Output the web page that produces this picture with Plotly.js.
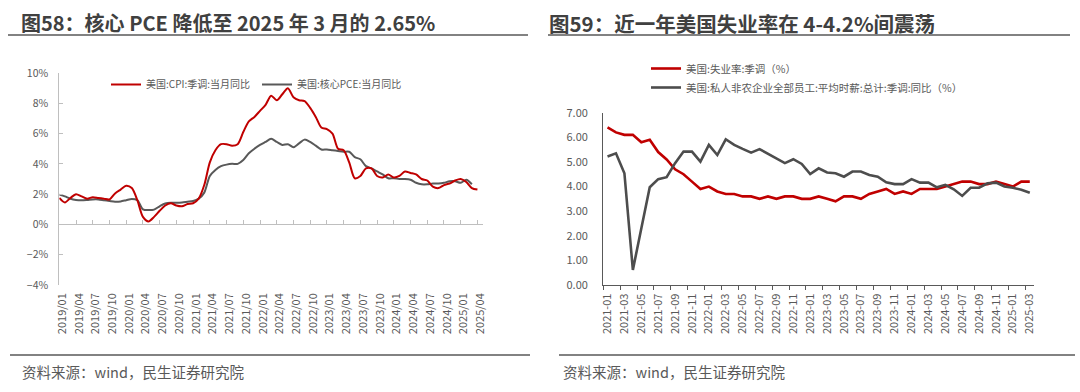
<!DOCTYPE html>
<html><head><meta charset="utf-8">
<script src="https://cdn.plot.ly/plotly-3.0.1.min.js"></script>
<style>html,body{margin:0;padding:0;background:#fff}#chart{width:1080px;height:392px}</style>
</head><body><div id="chart"></div>
<script>
// ---------- Left panel data ----------
const monthsL = [
 "2019/01","2019/02","2019/03","2019/04","2019/05","2019/06","2019/07","2019/08","2019/09","2019/10","2019/11","2019/12",
 "2020/01","2020/02","2020/03","2020/04","2020/05","2020/06","2020/07","2020/08","2020/09","2020/10","2020/11","2020/12",
 "2021/01","2021/02","2021/03","2021/04","2021/05","2021/06","2021/07","2021/08","2021/09","2021/10","2021/11","2021/12",
 "2022/01","2022/02","2022/03","2022/04","2022/05","2022/06","2022/07","2022/08","2022/09","2022/10","2022/11","2022/12",
 "2023/01","2023/02","2023/03","2023/04","2023/05","2023/06","2023/07","2023/08","2023/09","2023/10","2023/11","2023/12",
 "2024/01","2024/02","2024/03","2024/04","2024/05","2024/06","2024/07","2024/08","2024/09","2024/10","2024/11","2024/12",
 "2025/01","2025/02","2025/03","2025/04"];
const cpiYoY = [
 1.75,1.45,1.75,2.0,1.85,1.7,1.8,1.75,1.7,1.65,2.05,2.3,
 2.55,2.4,1.6,0.5,0.2,0.5,0.9,1.25,1.4,1.25,1.2,1.35,
 1.4,1.7,2.6,4.1,4.9,5.3,5.3,5.2,5.3,6.1,6.8,7.1,
 7.5,7.9,8.5,8.2,8.6,9.0,8.4,8.2,8.15,7.7,7.1,6.4,
 6.3,6.0,5.0,4.9,4.1,3.05,3.2,3.7,3.7,3.2,3.1,3.3,
 3.1,3.2,3.5,3.4,3.3,3.0,2.9,2.5,2.4,2.6,2.7,2.9,
 3.0,2.8,2.4,2.3];
const corePceYoY = [
 1.97,1.85,1.7,1.62,1.6,1.62,1.65,1.65,1.6,1.55,1.5,1.52,
 1.6,1.68,1.6,1.0,0.95,0.98,1.2,1.38,1.43,1.43,1.45,1.5,
 1.55,1.7,2.1,3.2,3.6,3.85,3.95,4.0,4.0,4.25,4.7,5.0,
 5.25,5.45,5.65,5.45,5.25,5.3,5.1,5.35,5.6,5.45,5.2,4.95,
 4.95,4.9,4.85,4.8,4.8,4.45,4.3,3.85,3.7,3.5,3.3,3.05,
 3.05,3.0,3.0,2.95,2.75,2.65,2.65,2.7,2.7,2.75,2.85,2.85,
 2.75,2.95,2.65];
const nameCPI = "美国:CPI:季调:当月同比";
const namePCE = "美国:核心PCE:当月同比";

// ---------- Right panel data ----------
const monthsR = [
 "2021-01","2021-02","2021-03","2021-04","2021-05","2021-06","2021-07","2021-08","2021-09","2021-10","2021-11","2021-12",
 "2022-01","2022-02","2022-03","2022-04","2022-05","2022-06","2022-07","2022-08","2022-09","2022-10","2022-11","2022-12",
 "2023-01","2023-02","2023-03","2023-04","2023-05","2023-06","2023-07","2023-08","2023-09","2023-10","2023-11","2023-12",
 "2024-01","2024-02","2024-03","2024-04","2024-05","2024-06","2024-07","2024-08","2024-09","2024-10","2024-11","2024-12",
 "2025-01","2025-02","2025-03"];
const unemployment = [
 6.4,6.2,6.1,6.1,5.8,5.9,5.4,5.1,4.7,4.5,4.2,3.9,
 4.0,3.8,3.7,3.7,3.6,3.6,3.5,3.6,3.5,3.6,3.6,3.5,
 3.5,3.6,3.5,3.4,3.6,3.6,3.5,3.7,3.8,3.9,3.7,3.8,
 3.7,3.9,3.9,3.9,4.0,4.1,4.2,4.2,4.1,4.1,4.2,4.1,
 4.0,4.2,4.2];
const hourlyEarningsYoY = [
 5.22,5.35,4.54,0.61,2.3,3.97,4.3,4.38,4.95,5.42,5.42,5.01,
 5.69,5.28,5.92,5.69,5.53,5.38,5.52,5.33,5.11,4.95,5.11,4.92,
 4.51,4.74,4.57,4.54,4.40,4.61,4.61,4.47,4.40,4.17,4.1,4.1,
 4.3,4.16,4.16,3.97,4.07,3.89,3.62,3.95,3.95,4.13,4.16,4.0,
 3.95,3.87,3.75];
const nameUnemp = "美国:失业率:季调（%）";
const nameWage = "美国:私人非农企业全部员工:平均时薪:总计:季调:同比（%）";

// ---------- Text ----------
const titleL = "图58：核心 PCE 降低至 2025 年 3 月的 2.65%";
const titleR = "图59：近一年美国失业率在 4-4.2%间震荡";
const sourceText = "资料来源：wind，民生证券研究院";

// ---------- Layout helpers ----------
const W = 1080, H = 392;
const px = x => x / W;
const py = y => 1 - y / H;
const FONT = '"Noto Sans CJK SC", "Noto Sans", sans-serif';
const RED = '#C00000', GRAY = '#595959', TXT = '#595959';

const yRangeL = [-4, 10];
const yDomL = [py(285), py(73)];
const zeroPos = yDomL[0] + (0 - yRangeL[0]) / (yRangeL[1] - yRangeL[0]) * (yDomL[1] - yDomL[0]);

const traces = [
  {x: monthsL.slice(0, cpiYoY.length), y: cpiYoY, name: nameCPI, type: 'scatter', mode: 'lines',
   line: {color: RED, width: 2, shape: 'spline', smoothing: 0.8}, xaxis: 'x2', yaxis: 'y', legend: 'legend', hoverinfo: 'skip'},
  {x: monthsL.slice(0, corePceYoY.length), y: corePceYoY, name: namePCE, type: 'scatter', mode: 'lines',
   line: {color: GRAY, width: 2, shape: 'spline', smoothing: 0.8}, xaxis: 'x', yaxis: 'y', legend: 'legend', hoverinfo: 'skip'},
  {x: monthsR, y: unemployment, name: nameUnemp, type: 'scatter', mode: 'lines',
   line: {color: RED, width: 2.6}, xaxis: 'x3', yaxis: 'y2', legend: 'legend2', hoverinfo: 'skip'},
  {x: monthsR, y: hourlyEarningsYoY, name: nameWage, type: 'scatter', mode: 'lines',
   line: {color: '#4d4d4d', width: 2.6}, xaxis: 'x3', yaxis: 'y2', legend: 'legend2', hoverinfo: 'skip'}
];

const tickFont = {family: FONT, size: 11, color: TXT};

const layout = {
  width: W, height: H,
  margin: {l: 0, r: 0, t: 0, b: 0},
  paper_bgcolor: '#fff', plot_bgcolor: '#fff',
  font: {family: FONT, color: TXT},
  showlegend: true,
  xaxis: {
    type: 'category', categoryorder: 'array', categoryarray: monthsL,
    range: [0, 76], domain: [px(59.3), px(483)], anchor: 'y',
    tickmode: 'linear', tick0: 0, dtick: 3, tickangle: -90,
    ticks: '', showline: false, showgrid: false, zeroline: false,
    tickfont: tickFont, ticklabelstandoff: 5, ticklabelshift: 3, automargin: false
  },
  xaxis2: {
    type: 'category', categoryorder: 'array', categoryarray: monthsL,
    range: [0, 76], domain: [px(59.3), px(483)], anchor: 'free', position: zeroPos,
    overlaying: 'x', side: 'bottom',
    tickmode: 'linear', tick0: 0, dtick: 3,
    ticks: 'inside', ticklen: 4, tickcolor: '#bfbfbf', showline: true, linecolor: '#bfbfbf', linewidth: 1,
    showticklabels: false, showgrid: false, zeroline: false, automargin: false
  },
  yaxis: {
    range: yRangeL, domain: yDomL, anchor: 'x',
    tickmode: 'linear', tick0: -4, dtick: 2, ticksuffix: '%',
    ticks: 'inside', ticklen: 4, tickcolor: '#bfbfbf',
    showline: true, linecolor: '#bfbfbf', linewidth: 1,
    showgrid: false, zeroline: false,
    tickfont: {family: FONT, size: 10.5, color: TXT}, ticklabelstandoff: 8, automargin: false
  },
  xaxis3: {
    type: 'category', categoryorder: 'array', categoryarray: monthsR,
    range: [-0.5, 50.5], domain: [px(603.3), px(1034)], anchor: 'y2',
    tickmode: 'linear', tick0: 0, dtick: 2, tickson: 'boundaries', tickangle: -90,
    ticks: 'outside', ticklen: 4, tickcolor: '#595959', showline: true, linecolor: '#595959', linewidth: 1.2,
    showgrid: false, zeroline: false, tickfont: tickFont, ticklabelstandoff: 3, automargin: false
  },
  yaxis2: {
    range: [0, 7], domain: [py(285), py(112.7)], anchor: 'x3',
    tickmode: 'linear', tick0: 0, dtick: 1, tickformat: '.2f',
    ticks: '', showline: true, linecolor: '#595959', linewidth: 1.2,
    showgrid: false, zeroline: false,
    tickfont: {family: FONT, size: 11, color: TXT}, ticklabelstandoff: 12, automargin: false
  },
  legend: {
    orientation: 'h', x: px(106), y: py(70), xanchor: 'left', yanchor: 'top',
    font: {family: FONT, size: 10, color: TXT}, bgcolor: 'rgba(0,0,0,0)',
    itemwidth: 30, entrywidth: 106, traceorder: 'normal'
  },
  legend2: {
    orientation: 'v', x: px(646), y: py(54), xanchor: 'left', yanchor: 'top',
    font: {family: FONT, size: 10.5, color: TXT}, bgcolor: 'rgba(0,0,0,0)',
    itemwidth: 30, traceorder: 'normal'
  },
  annotations: [
    {text: '<b>' + titleL + '</b>', x: px(19), y: py(23), xref: 'paper', yref: 'paper', xanchor: 'left', yanchor: 'middle',
     showarrow: false, font: {family: FONT, size: 20, color: '#404040'}},
    {text: '<b>' + titleR + '</b>', x: px(547), y: py(23), xref: 'paper', yref: 'paper', xanchor: 'left', yanchor: 'middle',
     showarrow: false, font: {family: FONT, size: 20.5, color: '#404040'}},
    {text: sourceText, x: px(20), y: py(371), xref: 'paper', yref: 'paper', xanchor: 'left', yanchor: 'middle',
     showarrow: false, font: {family: FONT, size: 14.5, color: '#595959'}},
    {text: sourceText, x: px(561), y: py(371), xref: 'paper', yref: 'paper', xanchor: 'left', yanchor: 'middle',
     showarrow: false, font: {family: FONT, size: 14.5, color: '#595959'}}
  ],
  shapes: [
    {type: 'line', xref: 'paper', yref: 'paper', x0: px(8), x1: px(528), y0: py(35), y1: py(35), line: {color: '#595959', width: 1.6}},
    {type: 'line', xref: 'paper', yref: 'paper', x0: px(548), x1: px(1070), y0: py(35), y1: py(35), line: {color: '#595959', width: 1.6}},
    {type: 'line', xref: 'paper', yref: 'paper', x0: px(10), x1: px(530), y0: py(355), y1: py(355), line: {color: '#595959', width: 1.6}},
    {type: 'line', xref: 'paper', yref: 'paper', x0: px(559), x1: px(1075), y0: py(355), y1: py(355), line: {color: '#595959', width: 1.6}}
  ]
};

Plotly.newPlot('chart', traces, layout, {staticPlot: true, displayModeBar: false});
</script></body></html>
